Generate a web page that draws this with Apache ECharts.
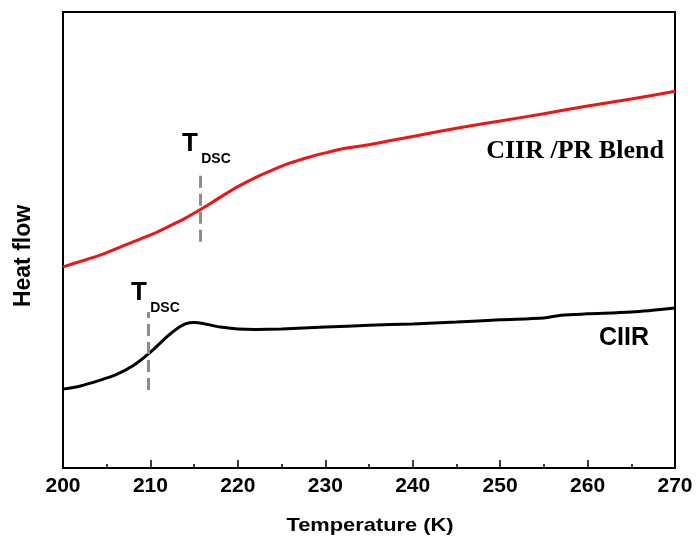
<!DOCTYPE html>
<html>
<head>
<meta charset="utf-8">
<script src="https://cdn.jsdelivr.net/npm/echarts@6/dist/echarts.min.js"></script>
<style>
html,body{margin:0;padding:0;background:#fff;}
#chart{width:698px;height:542px;}
</style>
</head>
<body>
<div id="chart"></div>
<script>
// Temperature (K) samples for each curve
var blendTemps = [200,202,204,206,208,210,212,214,216,218,220,222,224,226,228,230,232,235,240,245,250,255,260,265,270];
var blendFlow  = [44.1,45.3,46.5,48.0,49.6,51.1,52.9,54.8,57.0,59.4,61.7,63.7,65.4,66.9,68.1,69.1,70.0,70.9,72.7,74.5,76.1,77.7,79.4,80.9,82.6];

var ciirTemps = [200,202,204,206,208,210,212,213,214,215,216,218,220,222,225,230,235,240,245,250,255,257,260,265,270];
var ciirFlow  = [17.3,18.0,19.1,20.4,22.4,25.4,29.0,30.5,31.6,31.9,31.7,30.9,30.5,30.4,30.5,30.9,31.3,31.6,32.0,32.5,32.9,33.5,33.8,34.2,35.1];

// Glass transition markers (T_DSC)
var blendTdsc = 215.7, blendTdscRange = [49.6, 64.7];
var ciirTdsc  = 209.8, ciirTdscRange  = [17.1, 34.2];

var xTicks = [200,210,220,230,240,250,260,270];

function pairs(xs, ys){ return xs.map(function(x,i){ return [x, ys[i]]; }); }

var SANS = "'Liberation Sans', Arial, sans-serif";
var SERIF = "'Liberation Serif', 'Times New Roman', serif";

var chart = echarts.init(document.getElementById('chart'), null, {renderer:'canvas'});

function dashLine(t, range){
  return {
    silent: true,
    symbol: 'none',
    label: {show:false},
    lineStyle: {color:'#8c8c8c', width:3, type:[12,6]},
    data: [[{coord:[t, range[0]]}, {coord:[t, range[1]]}]]
  };
}

function txt(x, y, text, size, family, extra){
  var o = {
    type:'text', x:x, y:y, silent:true,
    style:{
      x:0, y:0, text:text,
      font:'bold ' + size + 'px ' + family,
      fill:'#000',
      textAlign:'center', align:'center',
      textVerticalAlign:'middle', verticalAlign:'middle'
    }
  };
  if (extra) for (var k in extra) o[k] = extra[k];
  return o;
}

var option = {
  animation: false,
  backgroundColor: '#fff',
  grid: {left:63, right:23, top:12, bottom:74, show:true, borderColor:'#000', borderWidth:2},
  xAxis: {
    type:'value', min:xTicks[0], max:xTicks[xTicks.length-1], interval:10,
    axisLine:{show:true, lineStyle:{color:'#000', width:2}},
    axisTick:{show:true, inside:true, length:8, lineStyle:{color:'#000', width:1.5}},
    minorTick:{show:true, splitNumber:2, length:4, lineStyle:{color:'#000', width:1.5}},
    splitLine:{show:false},
    axisLabel:{show:true, margin:8, color:'#000', fontSize:21, fontWeight:'bold', fontFamily:SANS, showMinLabel:true, showMaxLabel:true}
  },
  yAxis: {
    type:'value', min:0, max:100,
    axisLine:{show:true, lineStyle:{color:'#000', width:2}},
    axisTick:{show:false}, axisLabel:{show:false}, splitLine:{show:false}
  },
  series: [
    {
      name:'CIIR /PR Blend', type:'line', data:pairs(blendTemps, blendFlow),
      smooth:0.3, showSymbol:false, symbol:'none',
      lineStyle:{color:'#f01414', width:3},
      z:3,
      markLine: dashLine(blendTdsc, blendTdscRange)
    },
    {
      name:'CIIR', type:'line', data:pairs(ciirTemps, ciirFlow),
      smooth:0.3, showSymbol:false, symbol:'none',
      lineStyle:{color:'#000', width:3},
      z:3,
      markLine: dashLine(ciirTdsc, ciirTdscRange)
    }
  ],
  graphic: [
    txt(370, 526, 'Temperature (K)', 19, SANS, {scaleX:1.15}),
    txt(24, 256, 'Heat flow', 23, SANS, {rotation:Math.PI/2}),
    txt(575, 151, 'CIIR /PR Blend', 26, SERIF),
    txt(624, 338, 'CIIR', 25, SANS),
    txt(190, 144, 'T', 26, SANS),
    txt(216, 159, 'DSC', 14, SANS),
    txt(139, 293, 'T', 26, SANS),
    txt(165, 308.5, 'DSC', 14, SANS)
  ]
};
chart.setOption(option);
</script>
</body>
</html>
